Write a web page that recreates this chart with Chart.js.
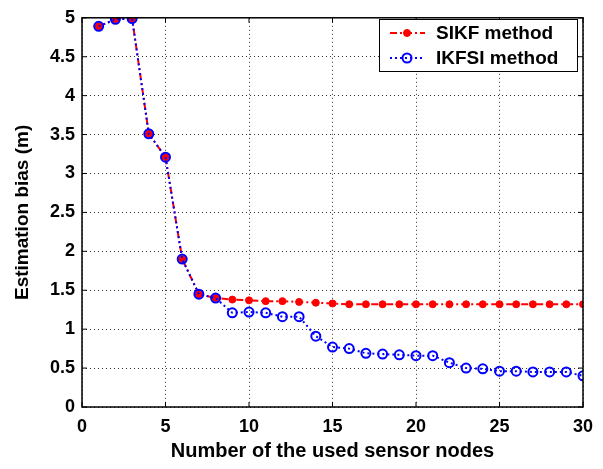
<!DOCTYPE html>
<html>
<head>
<meta charset="utf-8">
<script src="https://cdn.jsdelivr.net/npm/chart.js@4"></script>
<style>
  html, body { margin: 0; padding: 0; background: #fff; }
  #wrap { width: 603px; height: 469px; }
</style>
</head>
<body>
<div id="wrap"><canvas id="chart" width="603" height="469"></canvas></div>
<script>
// sensor node counts (x)
const nodes = [1,2,3,4,5,6,7,8,9,10,11,12,13,14,15,16,17,18,19,20,21,22,23,24,25,26,27,28,29,30];
// estimation bias (m)
const sikf = [4.89,4.98,4.99,3.51,3.21,1.90,1.45,1.40,1.38,1.37,1.36,1.36,1.35,1.34,1.33,1.32,1.32,1.32,1.32,1.32,1.32,1.32,1.32,1.32,1.32,1.32,1.32,1.32,1.32,1.32];
const ikfsi = [4.89,4.98,4.99,3.51,3.21,1.90,1.45,1.40,1.21,1.22,1.21,1.16,1.16,0.91,0.77,0.75,0.69,0.68,0.67,0.66,0.66,0.57,0.50,0.49,0.46,0.46,0.45,0.45,0.45,0.40];
const seriesNames = ['SIKF method', 'IKFSI method'];

const fontBold = { family: '"Liberation Sans", Arial, sans-serif', weight: 'bold' };

function pts(ys) { return nodes.map((x, i) => ({ x: x, y: ys[i] })); }

// box around the axes + inward ticks, matlab style
const framePlugin = {
  id: 'frame',
  afterDraw(chart) {
    const { ctx, chartArea: a, scales } = chart;
    ctx.save();
    ctx.strokeStyle = '#000';
    ctx.lineWidth = 1.5;
    ctx.setLineDash([]);
    ctx.strokeRect(a.left, a.top, a.right - a.left, a.bottom - a.top);
    ctx.lineWidth = 1;
    scales.x.ticks.forEach(t => {
      const px = scales.x.getPixelForValue(t.value);
      ctx.beginPath();
      ctx.moveTo(px, a.bottom); ctx.lineTo(px, a.bottom - 5);
      ctx.moveTo(px, a.top); ctx.lineTo(px, a.top + 5);
      ctx.stroke();
    });
    scales.y.ticks.forEach(t => {
      const py = scales.y.getPixelForValue(t.value);
      ctx.beginPath();
      ctx.moveTo(a.left, py); ctx.lineTo(a.left + 5, py);
      ctx.moveTo(a.right, py); ctx.lineTo(a.right - 5, py);
      ctx.stroke();
    });
    ctx.restore();
  }
};

// legend box with line + marker samples, top right inside the axes
const legendPlugin = {
  id: 'boxLegend',
  afterDraw(chart) {
    const { ctx } = chart;
    const x0 = 379, y0 = 19, w = 198, h = 52;
    ctx.save();
    ctx.fillStyle = '#fff';
    ctx.fillRect(x0, y0, w, h);
    ctx.strokeStyle = '#000';
    ctx.lineWidth = 1;
    ctx.strokeRect(x0 + 0.5, y0 + 0.5, w, h);
    chart.data.datasets.forEach((ds, i) => {
      const cy = y0 + 14 + i * 25;
      ctx.strokeStyle = ds.borderColor;
      ctx.lineWidth = 2;
      ctx.setLineDash(ds.borderDash);
      ctx.beginPath();
      ctx.moveTo(x0 + 11, cy); ctx.lineTo(x0 + 46, cy);
      ctx.stroke();
      ctx.setLineDash([]);
      ctx.beginPath();
      ctx.arc(x0 + 28, cy, ds.pointRadius, 0, Math.PI * 2);
      ctx.fillStyle = ds.pointBackgroundColor;
      ctx.fill();
      ctx.lineWidth = ds.pointBorderWidth;
      ctx.strokeStyle = ds.pointBorderColor;
      ctx.stroke();
      ctx.fillStyle = '#000';
      ctx.font = 'bold 19px "Liberation Sans", Arial, sans-serif';
      ctx.textBaseline = 'middle';
      ctx.fillText(ds.label, x0 + 57, cy + 1);
    });
    ctx.restore();
  }
};

new Chart(document.getElementById('chart'), {
  type: 'line',
  data: {
    datasets: [
      {
        label: seriesNames[0],
        data: pts(sikf),
        borderColor: '#ff0000',
        borderWidth: 2,
        borderDash: [7, 3, 2, 3],
        pointRadius: 3.5,
        pointBackgroundColor: '#ff0000',
        pointBorderColor: '#ff0000',
        pointBorderWidth: 1,
        order: 1
      },
      {
        label: seriesNames[1],
        data: pts(ikfsi),
        borderColor: '#0000ff',
        borderWidth: 2,
        borderDash: [2, 3],
        pointRadius: 4.5,
        pointBackgroundColor: 'rgba(255,255,255,0)',
        pointBorderColor: '#0000ff',
        pointBorderWidth: 2,
        order: 0
      }
    ]
  },
  options: {
    responsive: false,
    animation: false,
    layout: { padding: { left: 0, right: 20, top: 14, bottom: 0 } },
    plugins: { legend: { display: false }, tooltip: { enabled: false } },
    scales: {
      x: {
        type: 'linear', min: 0, max: 30,
        ticks: { stepSize: 5, padding: 9, color: '#000', font: { ...fontBold, size: 18 } },
        grid: { drawTicks: false, color: '#333' },
        border: { display: false, dash: [1, 3] },
        title: { display: true, text: 'Number of the used sensor nodes', color: '#000', font: { ...fontBold, size: 20 }, padding: { top: 4, bottom: 6 } },
        afterFit(s) { s.height = 62; }
      },
      y: {
        min: 0, max: 5,
        ticks: {
          stepSize: 0.5, padding: 7, color: '#000', font: { ...fontBold, size: 18 },
          callback: v => String(Math.round(v * 10) / 10)
        },
        grid: { drawTicks: false, color: '#333' },
        border: { display: false, dash: [1, 3] },
        title: { display: true, text: 'Estimation bias (m)', color: '#000', font: { ...fontBold, size: 19 }, padding: { top: 11, bottom: 4 } },
        afterFit(s) { s.width = 82; }
      }
    }
  },
  plugins: [framePlugin, legendPlugin]
});
</script>
</body>
</html>
